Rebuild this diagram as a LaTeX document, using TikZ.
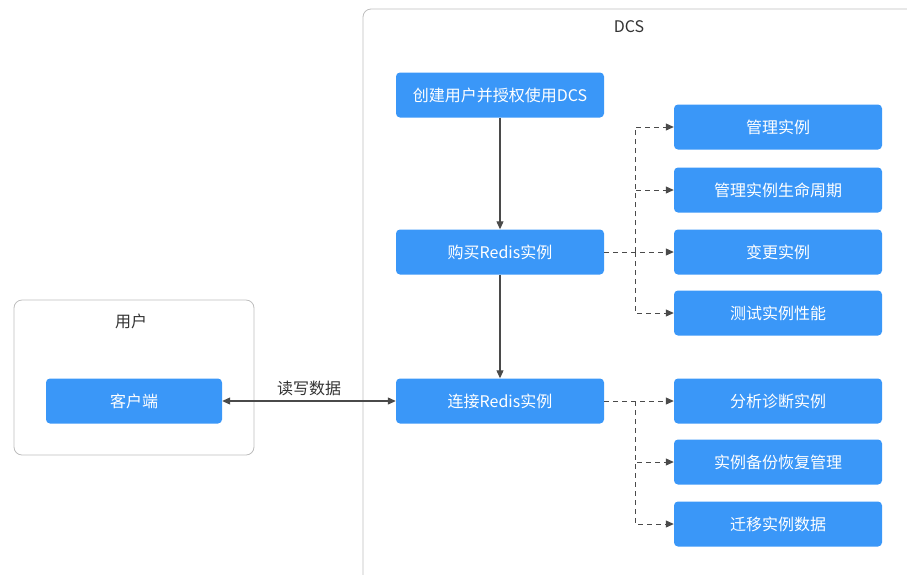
\documentclass[tikz,border=0pt]{standalone}
\usepackage{fontspec}
\setmainfont{Noto Sans CJK SC}
\usetikzlibrary{arrows.meta}
\definecolor{boxblue}{HTML}{3A97F8}
\definecolor{linegray}{HTML}{4A4A4A}
\definecolor{framegray}{HTML}{BDBDBD}
\definecolor{labelgray}{HTML}{333333}

\begin{document}
\begin{tikzpicture}[x=1pt, y=-1pt,
    task/.style={rectangle, rounded corners=4pt, fill=boxblue, text=white, minimum width=208pt, minimum height=45pt, inner sep=0pt, font=\fontsize{16}{19}\selectfont},
    frame/.style={draw=framegray, line width=0.8pt, rounded corners=8pt},
    caption/.style={text=labelgray, font=\fontsize{16}{19}\selectfont},
    arr/.style={draw=linegray, line width=1.1pt, -{Triangle[length=8pt, width=7pt]}},
    dasharr/.style={arr, line width=1pt, dash pattern=on 5pt off 4pt}]
      \clip (0,0) rectangle (907,574);

      % frames
      \draw[frame] (363,9) rectangle (940,610);
      \draw[frame] (14,300) rectangle (254,455);
      \node[caption] at (629,27)  (dcs)  {DCS};
      \node[caption] at (131,321) (user) {用户};

      % main column
      \node[task, minimum width=176pt] at (134,401) (c)  {客户端};
      \node[task] at (500,95)  (a)  {创建用户并授权使用DCS};
      \node[task] at (500,252) (b)  {购买Redis实例};
      \node[task] at (500,401) (d)  {连接Redis实例};

      % right column
      \node[task] at (778,127) (b1) {管理实例};
      \node[task] at (778,190) (b2) {管理实例生命周期};
      \node[task] at (778,252) (b3) {变更实例};
      \node[task] at (778,313) (b4) {测试实例性能};
      \node[task] at (778,401) (d1) {分析诊断实例};
      \node[task] at (778,462) (d2) {实例备份恢复管理};
      \node[task] at (778,524) (d3) {迁移实例数据};

      \coordinate (tb) at (635,252);
      \coordinate (td) at (635,401);

      \draw[arr] (a) -- (b);
      \draw[arr] (b) -- (d);
      \draw[arr, {Triangle[length=8pt, width=7pt]}-{Triangle[length=8pt, width=7pt]}] (c) -- node[caption, above=1pt] (rw) {读写数据} (d);

      \draw[dasharr] (b.east) -- (b3.west);
      \draw[dasharr] (tb) |- (b1.west);
      \draw[dasharr] (tb) |- (b2.west);
      \draw[dasharr] (tb) |- (b4.west);
      \draw[dasharr] (d.east) -- (d1.west);
      \draw[dasharr] (td) |- (d2.west);
      \draw[dasharr] (td) |- (d3.west);
    \end{tikzpicture}
\end{document}
